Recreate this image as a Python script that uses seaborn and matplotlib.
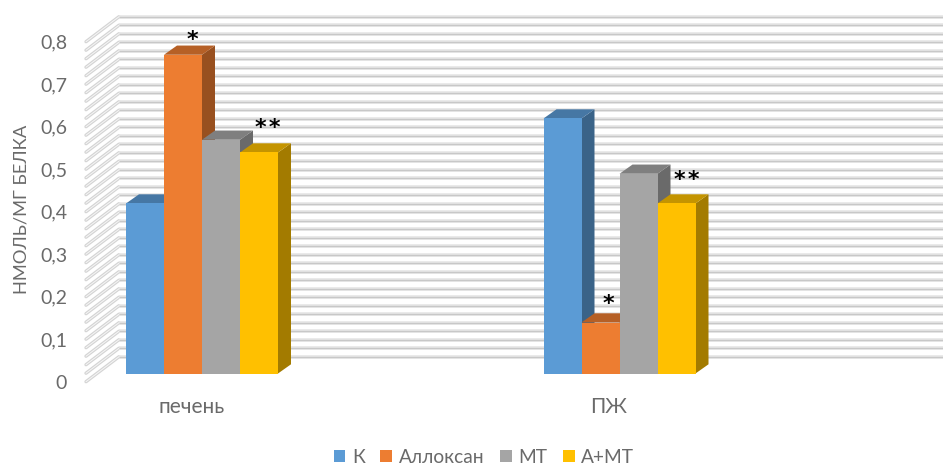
import matplotlib
matplotlib.use("Agg")
import matplotlib.pyplot as plt
from matplotlib.colors import to_rgb
from matplotlib.patches import Polygon
from matplotlib.transforms import ScaledTranslation
import numpy as np
import pandas as pd
import seaborn as sns

categories = ["печень", "ПЖ"]
series_names = ["К", "Аллоксан", "МТ", "А+МТ"]
k_values = [0.40, 0.60]
alloxan_values = [0.75, 0.12]
mt_values = [0.55, 0.47]
amt_values = [0.52, 0.40]
colors = ["#5B9BD5", "#ED7D31", "#A5A5A5", "#FFC000"]
y_ticks = [0, 0.1, 0.2, 0.3, 0.4, 0.5, 0.6, 0.7, 0.8]
y_tick_labels = ["0", "0,1", "0,2", "0,3", "0,4", "0,5", "0,6", "0,7", "0,8"]
y_title = "НМОЛЬ/МГ БЕЛКА"
# category index, series index, significance mark, x and y shift in pixels from bar's top centre
marks = [(0, 1, "*", 9, 15), (0, 3, "*\u200a*", 9, 24), (1, 1, "*", 8, 18), (1, 3, "*\u200a*", 10, 23)]

W, H, DPI = 943, 467, 100
PX_X = 417.5   # pixels per category step
PX_Y = 425.0   # pixels per value unit
X0_PX, Y0_PX = 202.0, 373.5  # first group centre, bar base
AX_L, AX_R, AX_T, AX_B = 86.0, 943.0, 15.0, 381.7
GREY = "#6a6a6a"
FONT = "Lato"

sns.set_theme(style="white")
plt.rcParams["font.family"] = [FONT, "DejaVu Sans"]

fig = plt.figure(figsize=(W / DPI, H / DPI), dpi=DPI)
ax = fig.add_axes([AX_L / W, 1 - AX_B / H, (AX_R - AX_L) / W, (AX_B - AX_T) / H])

df = pd.DataFrame({
    "category": categories * 4,
    "series": [s for s in series_names for _ in categories],
    "value": k_values + alloxan_values + mt_values + amt_values,
})
sns.barplot(data=df, x="category", y="value", hue="series", hue_order=series_names,
            order=categories, palette=colors, saturation=1, width=152 / PX_X,
            dodge=True, ax=ax, linewidth=0)

ax.set_xlim((AX_L - X0_PX) / PX_X, (AX_R - X0_PX) / PX_X)
ax.set_ylim((Y0_PX - AX_B) / PX_Y, (Y0_PX - AX_T) / PX_Y)
for s in ax.spines.values():
    s.set_visible(False)
ax.set_xlabel("")
ax.set_ylabel(y_title, fontsize=13.2, color=GREY, va="center")
ax.yaxis.set_label_coords(22 / W, 1 - 209 / H, transform=fig.transFigure)

# Walls of the 3D box
bar_dx, bar_dy = 13 / PX_X, 9.2 / PX_Y
wall_front = -8.2 / PX_Y
wall_back = 16.8 / PX_Y
wall_x0, wall_x1 = (AX_L - X0_PX) / PX_X, (119 - X0_PX) / PX_X
grid_vals = np.arange(41) * 0.02
for v in grid_vals:
    ax.plot([wall_x0, wall_x1], [v + wall_front, v + wall_back], color="#d4d4d4", lw=2.4,
            solid_capstyle="round", zorder=1, clip_on=False)
    ax.plot([wall_x0, wall_x1], [v + wall_front, v + wall_back], color="#f6f6f6", lw=0.7,
            zorder=1.1, clip_on=False)
    ax.plot([wall_x1, (AX_R - X0_PX) / PX_X], [v + wall_back] * 2, color="#e6e6e6", lw=2.6,
            solid_capstyle="butt", zorder=1, clip_on=False)
    ax.plot([wall_x1, (AX_R - X0_PX) / PX_X], [v + wall_back] * 2, color="#c8c8c8", lw=0.95,
            solid_capstyle="butt", zorder=1.1, clip_on=False)

# 3D faces derived from the bars that seaborn drew
tops = {}
for s_i, cont in enumerate(ax.containers):
    base = np.array(to_rgb(colors[s_i]))
    for c_i, bar in enumerate(cont):
        x, w, h = bar.get_x(), bar.get_width(), bar.get_height()
        z = 5 + c_i * 10 + s_i
        bar.set_zorder(z + 0.5)
        tops[(c_i, s_i)] = (x + w / 2, h)
        ax.add_patch(Polygon([(x + w, 0), (x + w + bar_dx, bar_dy), (x + w + bar_dx, h + bar_dy), (x + w, h)],
                             closed=True, fc=base * 0.64, ec="none", zorder=z))
        ax.add_patch(Polygon([(x, h), (x + bar_dx, h + bar_dy), (x + w + bar_dx, h + bar_dy), (x + w, h)],
                             closed=True, fc=base * 0.77, ec="none", zorder=z))

for c_i, s_i, txt, dx, dy in marks:
    x, h = tops[(c_i, s_i)]
    ax.annotate(txt, (x, h), xytext=(dx * 72 / DPI, dy * 72 / DPI),
                textcoords="offset points", ha="center", va="center", fontsize=16,
                fontweight="bold", color="black", family="DejaVu Sans", zorder=100)

# Ticks
ax.set_yticks(y_ticks)
ax.set_yticklabels(y_tick_labels)
ax.tick_params(axis="y", length=0, pad=13.5, labelsize=14, labelcolor=GREY)
ax.tick_params(axis="x", length=0, pad=11, labelsize=15, labelcolor=GREY)
off_y = ScaledTranslation(0, -8.2 / DPI, fig.dpi_scale_trans)
for lab in ax.get_yticklabels():
    lab.set_transform(lab.get_transform() + off_y)
off_x = ScaledTranslation(-10.5 / DPI, 0, fig.dpi_scale_trans)
for lab in ax.get_xticklabels():
    lab.set_transform(lab.get_transform() + off_x)

ax.legend(ncol=4, loc="center", bbox_to_anchor=(484 / W, 1 - 457.5 / H), bbox_transform=fig.transFigure,
          frameon=False, fontsize=13.8, labelcolor=GREY, handlelength=0.62, handleheight=0.62,
          handletextpad=0.35, columnspacing=0.8, borderpad=0, borderaxespad=0)

fig.savefig("out.png", dpi=DPI, facecolor="white")
